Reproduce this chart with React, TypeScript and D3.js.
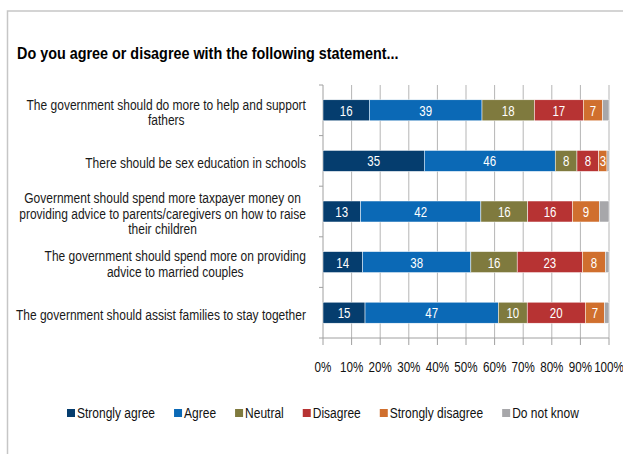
import React from "react";
import * as d3 from "d3";

const title = "Do you agree or disagree with the following statement...";
const categories: string[][] = [
  ["The government should do more to help and support", "fathers"],
  ["There should be sex education in schools"],
  [
    "Government should spend more taxpayer money on",
    "providing advice to parents/caregivers on how to raise",
    "their children",
  ],
  ["The government should spend more on providing", "advice to married couples"],
  ["The government should assist families to stay together"],
];
const seriesNames = ["Strongly agree", "Agree", "Neutral", "Disagree", "Strongly disagree", "Do not know"];
const stronglyAgree = [16.2, 35.4, 13.1, 13.8, 14.7];
const agree = [39.4, 45.8, 42.1, 37.9, 46.6];
const neutral = [18.3, 7.6, 16.4, 16.2, 10.1];
const disagree = [17.1, 7.6, 15.6, 22.8, 20.3];
const stronglyDisagree = [6.8, 2.9, 9.4, 8.0, 6.7];
const doNotKnow = [2.2, 0.7, 3.4, 1.3, 1.6];
const colors = ["#053d6e", "#0b69b6", "#7f7a3e", "#b73333", "#d06f2e", "#a7a7aa"];
const showLabels = [true, true, true, true, true, false];
const ticks = [0, 10, 20, 30, 40, 50, 60, 70, 80, 90, 100];

const FONT = "'Liberation Sans', Arial, sans-serif";

function measure(text: string, size: number, weight = "normal") {
  const c = document.createElement("canvas").getContext("2d")!;
  c.font = `${weight} ${size}px ${FONT}`;
  return c.measureText(text).width;
}

function ST(props: {
  x: number;
  y: number;
  size: number;
  sx: number;
  anchor?: "start" | "middle" | "end";
  fill?: string;
  weight?: string;
  children: React.ReactNode;
}) {
  const { x, y, size, sx, anchor = "start", fill = "#111", weight = "normal", children } = props;
  return (
    <text
      transform={`translate(${x},${y}) scale(${sx},1)`}
      fontSize={size}
      fontWeight={weight}
      textAnchor={anchor}
      fill={fill}
    >
      {children}
    </text>
  );
}

export default function App() {
  const W = 623, H = 454;
  const series = [stronglyAgree, agree, neutral, disagree, stronglyDisagree, doNotKnow];
  const x = d3.scaleLinear().domain([0, 100]).range([323, 609]);
  const y = d3
    .scaleBand<number>()
    .domain(d3.range(categories.length))
    .range([85, 338])
    .paddingInner(0.585)
    .paddingOuter(0.2925);
  const step = y.step();
  const labelRight = 306;
  const lineH = 15.3;
  const LS = 15; // label font size
  const LSX = 0.8; // horizontal compression

  // legend layout
  let lx = 67;
  const legendItems = seriesNames.map((n, i) => {
    const item = { n, i, x: lx };
    lx += 10 + measure(n, LS) * LSX + 19;
    return item;
  });

  return (
    <svg width={W} height={H} style={{ position: "absolute", left: 0, top: 0, fontFamily: FONT }}>
      <rect x={0} y={0} width={W} height={H} fill="#fff" />
      <path d={`M7.5,${H} V11 H${W}`} fill="none" stroke="#c6c6c6" strokeWidth={1.5} />
      <ST x={17} y={58.5} size={15.8} sx={0.91} weight="bold" fill="#000">
        {title}
      </ST>

      {/* gridlines */}
      {ticks.slice(1).map((t) => (
        <line key={t} x1={x(t)} x2={x(t)} y1={85} y2={338} stroke="#b5b5b5" strokeWidth={1} />
      ))}
      {/* axes */}
      <line x1={x(0)} x2={x(0)} y1={85} y2={338} stroke="#a0a0a0" />
      {d3.range(categories.length + 1).map((i) => (
        <line key={i} x1={x(0) - 4} x2={x(0)} y1={85 + i * step} y2={85 + i * step} stroke="#a0a0a0" />
      ))}
      <line x1={x(0)} x2={x(100)} y1={338} y2={338} stroke="#a0a0a0" />
      {ticks.map((t) => (
        <g key={t}>
          <line x1={x(t)} x2={x(t)} y1={338} y2={345} stroke="#a0a0a0" />
          <ST x={x(t)} y={372} size={14} sx={0.83} anchor="middle" fill="#111">
            {t}%
          </ST>
        </g>
      ))}

      {/* bars */}
      {categories.map((_, ci) => {
        let acc = 0;
        return (
          <g key={ci}>
            {series.map((s, si) => {
              const v = s[ci];
              const x0 = x(acc);
              acc += v;
              const x1 = x(acc);
              const yy = y(ci)!;
              return (
                <g key={si}>
                  <rect x={x0} y={yy} width={x1 - x0} height={y.bandwidth()} fill={colors[si]} stroke="#fff" strokeWidth={0.5} />
                  {showLabels[si] && (
                    <ST x={(x0 + x1) / 2} y={yy + y.bandwidth() / 2 + 5.5} size={14} sx={0.82} anchor="middle" fill="#fff">
                      {Math.round(v)}
                    </ST>
                  )}
                </g>
              );
            })}
          </g>
        );
      })}

      {/* category labels */}
      {categories.map((lines, ci) => {
        const maxW = Math.max(...lines.map((l) => measure(l, LS) * LSX));
        const cx = labelRight - maxW / 2;
        const cy = y(ci)! + y.bandwidth() / 2;
        return (
          <g key={ci}>
            {lines.map((l, li) => (
              <ST
                key={li}
                x={cx}
                y={cy + (li - (lines.length - 1) / 2) * lineH + 7}
                size={LS}
                sx={LSX}
                anchor="middle"
                fill="#1a1a1a"
              >
                {l}
              </ST>
            ))}
          </g>
        );
      })}

      {/* legend */}
      {legendItems.map((it) => (
        <g key={it.n}>
          <rect x={it.x} y={409} width={8} height={8} fill={colors[it.i]} />
          <ST x={it.x + 10} y={418} size={LS} sx={LSX} fill="#111">
            {it.n}
          </ST>
        </g>
      ))}
    </svg>
  );
}
